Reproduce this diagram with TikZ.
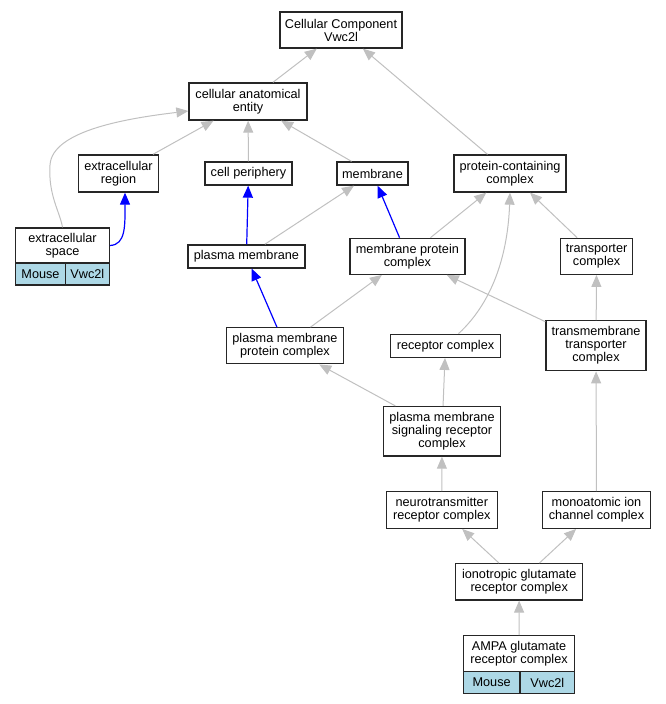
\documentclass[tikz,border=0pt]{standalone}
\usepackage{fontspec}
\setmainfont{Liberation Sans}
\usetikzlibrary{arrows.meta,calc}
\definecolor{edgegray}{HTML}{C0C0C0}
\definecolor{cellblue}{HTML}{ADD8E6}
\begin{document}
\begin{tikzpicture}[x=1pt,y=-1pt,
  term/.style={draw=black!85,line width=1.3pt,inner sep=0pt,align=center,
    font=\fontsize{12.7}{13}\selectfont,fill=white},
  cell/.style={term,fill=cellblue},
  isa/.style={draw=edgegray,line width=1pt,-{Triangle[length=12pt,width=10pt]}},
  partof/.style={draw=blue,line width=1.2pt,-{Triangle[length=12pt,width=10pt]}}]
\useasboundingbox (0,0) rectangle (665,704);
% nodes
\node[term,minimum width=122pt,minimum height=36pt] (cc) at (341,30) {Cellular Component\\Vwc2l};
\node[term,minimum width=118pt,minimum height=37pt] (cae) at (248,101.5) {cellular anatomical\\entity};
\node[term,minimum width=80pt,minimum height=37pt] (er) at (118.5,173.5) {extracellular\\region};
\node[term,minimum width=87pt,minimum height=23pt] (cp) at (248.5,173.5) {cell periphery};
\node[term,minimum width=71pt,minimum height=23pt] (mem) at (372.5,173.5) {membrane};
\node[term,minimum width=112pt,minimum height=37pt] (pcc) at (510,173.5) {protein-containing\\complex};
\node[term,minimum width=93.5pt,minimum height=35pt] (es) at (62.5,245.5) {extracellular\\space};
\node[cell,minimum width=49.5pt,minimum height=22pt] (esm) at (40.5,274) {Mouse};
\node[cell,minimum width=44pt,minimum height=22pt] (esv) at (87.3,274) {Vwc2l};
\node[term,minimum width=117pt,minimum height=23pt] (pm) at (246.4,256.4) {plasma membrane};
\node[term,minimum width=115pt,minimum height=36pt] (mpc) at (407.4,256.3) {membrane protein\\complex};
\node[term,minimum width=72pt,minimum height=36pt] (tc) at (596.6,256.3) {transporter\\complex};
\node[term,minimum width=116.5pt,minimum height=36pt] (pmpc) at (285,345.8) {plasma membrane\\protein complex};
\node[term,minimum width=110.5pt,minimum height=23pt] (rc) at (445.5,345.8) {receptor complex};
\node[term,minimum width=100pt,minimum height=50pt] (ttc) at (596,345.7) {transmembrane\\transporter\\complex};
\node[term,minimum width=117pt,minimum height=49.5pt] (pmsrc) at (442,431.3) {plasma membrane\\signaling receptor\\complex};
\node[term,minimum width=111pt,minimum height=36.6pt] (ntr) at (441.8,510) {neurotransmitter\\receptor complex};
\node[term,minimum width=108pt,minimum height=36.6pt] (mic) at (596.5,510) {monoatomic ion\\channel complex};
\node[term,minimum width=127pt,minimum height=36.3pt] (igr) at (519.2,581.8) {ionotropic glutamate\\receptor complex};
\node[term,minimum width=111.4pt,minimum height=36pt] (ampa) at (519,653.7) {AMPA glutamate\\receptor complex};
\node[cell,minimum width=56.7pt,minimum height=21.6pt] (ampam) at (491.65,682.5) {Mouse};
\node[cell,minimum width=54.7pt,minimum height=21.6pt] (ampav) at (547.35,682.5) {Vwc2l};
% edges
\draw[isa] (cae) -- (cc);
\draw[isa] (pcc) -- (cc);
\draw[isa] (er) -- (cae);
\draw[isa] (cp) -- (cae);
\draw[isa] (mem) -- (cae);
\draw[isa] (es.north) .. controls (60,212) and (48,195) .. (50,165)
  .. controls (52,130) and (130,118) .. ($(cae.west)+(0,9.5)$);
\draw[partof] (es.east) .. controls (126,245) and (125,225) .. ($(er.south)+(6.5,0)$);
\draw[partof] (pm) -- (cp);
\draw[isa] (pm) -- (mem);
\draw[partof] (mpc) -- (mem);
\draw[isa] (mpc) -- (pcc);
\draw[isa] ($(rc.north)+(13,0)$) .. controls (495,300) and (508,250) .. (pcc.south);
\draw[isa] (tc) -- (pcc);
\draw[partof] (pmpc) -- (pm);
\draw[isa] (pmpc) -- (mpc);
\draw[isa] (ttc) -- (mpc);
\draw[isa] (ttc) -- (tc);
\draw[isa] (pmsrc) -- (pmpc);
\draw[isa] (pmsrc) -- (rc);
\draw[isa] (ntr) -- (pmsrc);
\draw[isa] (mic) -- (ttc);
\draw[isa] (igr) -- (ntr);
\draw[isa] (igr) -- (mic);
\draw[isa] (ampa) -- (igr);
\end{tikzpicture}
\end{document}
